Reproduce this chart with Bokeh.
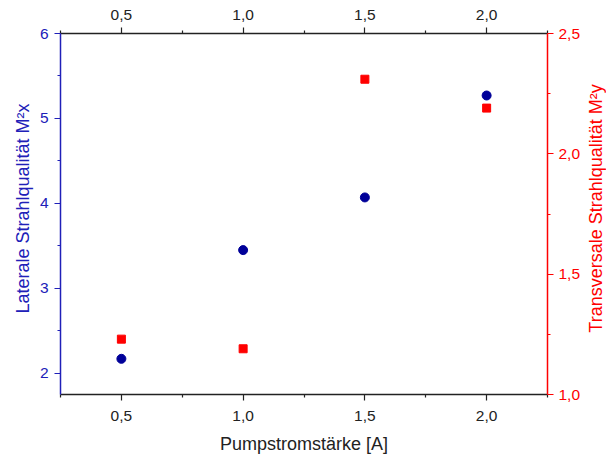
import math
from bokeh.plotting import figure
from bokeh.layouts import row
from bokeh.models import Range1d, LinearAxis, FixedTicker, CustomJSTickFormatter
from bokeh.core.properties import value
from bokeh.embed import file_html
from bokeh.resources import INLINE

current = [0.5, 1.0, 1.5, 2.0]
m2x = [2.17, 3.45, 4.07, 5.27]
m2y = [1.23, 1.19, 2.31, 2.19]

x_ticks = [0.5, 1.0, 1.5, 2.0]
x_minor = [0.25, 0.75, 1.25, 1.75, 2.25]
left_ticks = [2, 3, 4, 5, 6]
left_minor = [2.5, 3.5, 4.5, 5.5]
right_ticks = [1.0, 1.5, 2.0, 2.5]
right_minor = [1.25, 1.75, 2.25]

left_title_text = "Laterale Strahlqualität M²x"
right_title_text = "Transversale Strahlqualität M²y"

BLUE = "#2020b8"
NAVY = "#000099"
RED = "#ff0000"
FONT = "Liberation Sans"

p = figure(width=549, height=457, output_backend="svg", toolbar_location=None,
           x_range=Range1d(0.25, 2.25), y_range=Range1d(1.75, 6.0),
           min_border_left=26, min_border_right=36, min_border_top=33, min_border_bottom=63,
           x_axis_location=None, y_axis_location=None)
p.outline_line_color = None
p.grid.visible = False
p.background_fill_color = "white"
p.border_fill_color = "white"
p.extra_y_ranges = {"right": Range1d(1.0, 2.5)}

fmt1 = CustomJSTickFormatter(code="return tick.toFixed(1).replace('.', ',');")
fmt0 = CustomJSTickFormatter(code="return tick.toFixed(0);")

def style(ax, color, label_color):
    ax.axis_line_color = color
    ax.axis_line_width = 1.5
    ax.major_tick_line_color = color
    ax.minor_tick_line_color = color
    ax.major_tick_line_width = 1.2
    ax.minor_tick_line_width = 1.2
    ax.major_tick_in = 0
    ax.major_tick_out = 6
    ax.minor_tick_in = 0
    ax.minor_tick_out = 3
    ax.major_label_text_font = FONT
    ax.major_label_text_font_size = "15.5px"
    ax.major_label_text_color = label_color
    ax.axis_label_text_font = FONT
    ax.axis_label_text_font_size = "18px"
    ax.axis_label_text_font_style = "normal"
    ax.axis_label_text_color = label_color

bottom = LinearAxis(ticker=FixedTicker(ticks=x_ticks, minor_ticks=x_minor), formatter=fmt1,
                    axis_label="Pumpstromstärke [A]")
style(bottom, "#222222", "#222222")
bottom.major_label_standoff = 10
bottom.axis_label_standoff = 10
p.add_layout(bottom, "below")

top = LinearAxis(ticker=FixedTicker(ticks=x_ticks, minor_ticks=x_minor), formatter=fmt1)
style(top, "#222222", "#222222")
top.major_label_standoff = 8
p.add_layout(top, "above")

left = LinearAxis(ticker=FixedTicker(ticks=left_ticks, minor_ticks=left_minor), formatter=fmt0)
style(left, BLUE, BLUE)
left.major_label_standoff = 6
p.add_layout(left, "left")

right = LinearAxis(y_range_name="right",
                   ticker=FixedTicker(ticks=right_ticks, minor_ticks=right_minor), formatter=fmt1)
style(right, RED, RED)
right.major_label_standoff = 5
p.add_layout(right, "right")

p.scatter(current, m2x, marker="circle", size=9, fill_color=NAVY, line_color=NAVY)
p.scatter(current, m2y, marker="square", size=8, fill_color=RED, line_color=RED,
          y_range_name="right")

def side_panel(w, x, text, color):
    s = figure(width=w, height=457, output_backend="svg", toolbar_location=None,
               x_range=Range1d(0, w), y_range=Range1d(457, 0),
               min_border_left=0, min_border_right=0, min_border_top=0, min_border_bottom=0)
    s.axis.visible = False
    s.grid.visible = False
    s.outline_line_color = None
    s.text(x=[x], y=[221.5], text=[text], angle=math.pi / 2,
           text_align="center", text_baseline="middle",
           text_font=value(FONT), text_font_size="18px", text_color=color)
    return s

left_side = side_panel(34, 22.5, left_title_text, BLUE)
right_side = side_panel(23, 12.5, right_title_text, RED)

layout = row(left_side, p, right_side, spacing=0)
open("out.html", "w").write(file_html(layout, INLINE))
